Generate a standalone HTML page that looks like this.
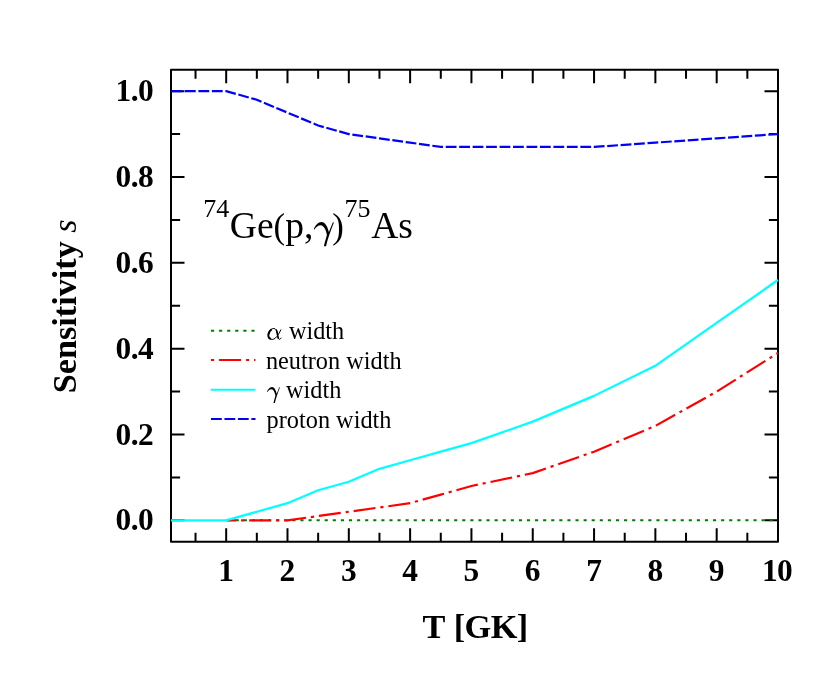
<!DOCTYPE html>
<html><head><meta charset="utf-8"><title>Sensitivity 74Ge(p,g)75As</title>
<style>
html,body{margin:0;padding:0;background:#fff;}
body{width:831px;height:679px;overflow:hidden;font-family:"Liberation Serif",serif;}
svg{display:block;will-change:transform;}
text{font-family:"Liberation Serif",serif;fill:#000;}
.b{font-weight:bold;}
.i{font-style:italic;}
</style></head><body>
<svg width="831" height="679" viewBox="0 0 831 679">
<rect x="0" y="0" width="831" height="679" fill="#ffffff"/>
<path d="M226.18,541.80 v-13.50 M226.18,69.70 v13.50 M287.49,541.80 v-13.50 M287.49,69.70 v13.50 M348.81,541.80 v-13.50 M348.81,69.70 v13.50 M410.12,541.80 v-13.50 M410.12,69.70 v13.50 M471.43,541.80 v-13.50 M471.43,69.70 v13.50 M532.75,541.80 v-13.50 M532.75,69.70 v13.50 M594.06,541.80 v-13.50 M594.06,69.70 v13.50 M655.37,541.80 v-13.50 M655.37,69.70 v13.50 M716.69,541.80 v-13.50 M716.69,69.70 v13.50 M778.00,541.80 v-13.50 M778.00,69.70 v13.50 M195.53,541.80 v-9.10 M195.53,69.70 v9.10 M256.84,541.80 v-9.10 M256.84,69.70 v9.10 M318.15,541.80 v-9.10 M318.15,69.70 v9.10 M379.46,541.80 v-9.10 M379.46,69.70 v9.10 M440.78,541.80 v-9.10 M440.78,69.70 v9.10 M502.09,541.80 v-9.10 M502.09,69.70 v9.10 M563.40,541.80 v-9.10 M563.40,69.70 v9.10 M624.72,541.80 v-9.10 M624.72,69.70 v9.10 M686.03,541.80 v-9.10 M686.03,69.70 v9.10 M747.34,541.80 v-9.10 M747.34,69.70 v9.10 M171.00,520.34 h13.50 M778.00,520.34 h-13.50 M171.00,434.50 h13.50 M778.00,434.50 h-13.50 M171.00,348.67 h13.50 M778.00,348.67 h-13.50 M171.00,262.83 h13.50 M778.00,262.83 h-13.50 M171.00,177.00 h13.50 M778.00,177.00 h-13.50 M171.00,91.16 h13.50 M778.00,91.16 h-13.50 M171.00,477.42 h9.10 M778.00,477.42 h-9.10 M171.00,391.59 h9.10 M778.00,391.59 h-9.10 M171.00,305.75 h9.10 M778.00,305.75 h-9.10 M171.00,219.91 h9.10 M778.00,219.91 h-9.10 M171.00,134.08 h9.10 M778.00,134.08 h-9.10" stroke="#000" stroke-width="2.00" fill="none"/>
<rect x="171.00" y="69.70" width="607.00" height="472.10" fill="none" stroke="#000" stroke-width="2.00" stroke-linejoin="round"/>
<g fill="none" stroke-width="2.2" stroke-linejoin="round">
<path d="M226.18,520.34 L256.84,520.34 L287.49,520.34 L318.15,520.34 L348.81,520.34 L379.46,520.34 L410.12,520.34 L440.78,520.34 L471.43,520.34 L532.75,520.34 L594.06,520.34 L655.37,520.34 L716.69,520.34 L778.00,520.34" stroke="#007e00" stroke-width="2.0" stroke-dasharray="3.1 4.99" stroke-dashoffset="55.18"/>
<path d="M226.18,520.34 L256.84,520.34 L287.49,520.34 L318.15,516.05 L348.81,511.76 L379.46,507.47 L410.12,503.17 L440.78,494.59 L471.43,486.01 L532.75,473.13 L594.06,451.67 L655.37,425.92 L716.69,391.59 L778.00,352.96" stroke="#ff0000" stroke-dasharray="3.1 4.95 22.05 4.95" stroke-dashoffset="55.18"/>
<path d="M171.00,520.34 L174.07,520.34 L177.13,520.34 L183.26,520.34 L189.39,520.34 L195.53,520.34 L201.66,520.34 L207.79,520.34 L213.92,520.34 L220.05,520.34 L226.18,520.34 L256.84,511.76 L287.49,503.17 L318.15,490.30 L348.81,481.71 L379.46,468.84 L410.12,460.26 L440.78,451.67 L471.43,443.09 L532.75,421.63 L594.06,395.88 L655.37,365.84 L716.69,322.92 L778.00,280.00" stroke="#00ffff"/>
<path d="M171.00,91.16 L174.07,91.16 L177.13,91.16 L183.26,91.16 L189.39,91.16 L195.53,91.16 L201.66,91.16 L207.79,91.16 L213.92,91.16 L220.05,91.16 L226.18,91.16 L256.84,99.74 L287.49,112.62 L318.15,125.49 L348.81,134.08 L379.46,138.37 L410.12,142.66 L440.78,146.95 L471.43,146.95 L532.75,146.95 L594.06,146.95 L655.37,142.66 L716.69,138.37 L778.00,134.08" stroke="#0000ff" stroke-dasharray="10.8 2.66" stroke-dashoffset="-0.5"/>
</g>
<text class="b" x="153.2" y="530.34" font-size="31.4" letter-spacing="-0.5" text-anchor="end">0.0</text>
<text class="b" x="153.2" y="444.50" font-size="31.4" letter-spacing="-0.5" text-anchor="end">0.2</text>
<text class="b" x="153.2" y="358.67" font-size="31.4" letter-spacing="-0.5" text-anchor="end">0.4</text>
<text class="b" x="153.2" y="272.83" font-size="31.4" letter-spacing="-0.5" text-anchor="end">0.6</text>
<text class="b" x="153.2" y="187.00" font-size="31.4" letter-spacing="-0.5" text-anchor="end">0.8</text>
<text class="b" x="153.2" y="101.16" font-size="31.4" letter-spacing="-0.5" text-anchor="end">1.0</text>
<text class="b" x="225.88" y="580.9" font-size="31.4" letter-spacing="-0.5" text-anchor="middle">1</text>
<text class="b" x="287.19" y="580.9" font-size="31.4" letter-spacing="-0.5" text-anchor="middle">2</text>
<text class="b" x="348.51" y="580.9" font-size="31.4" letter-spacing="-0.5" text-anchor="middle">3</text>
<text class="b" x="409.82" y="580.9" font-size="31.4" letter-spacing="-0.5" text-anchor="middle">4</text>
<text class="b" x="471.13" y="580.9" font-size="31.4" letter-spacing="-0.5" text-anchor="middle">5</text>
<text class="b" x="532.45" y="580.9" font-size="31.4" letter-spacing="-0.5" text-anchor="middle">6</text>
<text class="b" x="593.76" y="580.9" font-size="31.4" letter-spacing="-0.5" text-anchor="middle">7</text>
<text class="b" x="655.07" y="580.9" font-size="31.4" letter-spacing="-0.5" text-anchor="middle">8</text>
<text class="b" x="716.39" y="580.9" font-size="31.4" letter-spacing="-0.5" text-anchor="middle">9</text>
<text class="b" x="777.10" y="580.9" font-size="31.4" letter-spacing="-0.5" text-anchor="middle">10</text>
<text class="b" x="422.5" y="637.9" font-size="34.3">T</text>
<text class="b" x="453.7" y="637.9" font-size="34.3" letter-spacing="-0.55">[GK]</text>
<text class="b" transform="translate(75.7,306.3) rotate(-90)" font-size="34.2" text-anchor="middle">Sensitivity <tspan class="i" font-weight="normal">s</tspan></text>
<text x="203.3" y="217.40" font-size="26">74</text>
<text x="229.8" y="238.40" font-size="37.5">Ge</text>
<text x="273.6" y="237.50" font-size="34.8">(</text>
<text x="285.3" y="238.40" font-size="37.5">p,</text>
<path d="M313.7,229.3 C315.2,225.2 318.2,221.9 321.5,221.9 C325.2,221.9 327.4,226.3 328.9,231.9 L332.9,222.2 L333.9,222.6 C331.0,230.0 327.8,238.5 326.0,246.2 L323.9,246.2 C324.9,242.0 326.0,238.0 326.9,235.0 C326.2,230.5 324.0,225.2 320.6,225.2 C318.2,225.2 316.0,227.0 314.5,229.6 Z" fill="#000"/>
<text x="332.2" y="237.50" font-size="34.8">)</text>
<text x="344.5" y="217.40" font-size="26">75</text>
<text x="371.2" y="238.40" font-size="37.5">As</text>
<path d="M211.00,330.80 H255.50" stroke="#007e00" stroke-width="2.0" fill="none" stroke-dasharray="3.1 4.99"/>
<path d="M211.00,360.10 H255.50" stroke="#ff0000" stroke-width="2.0" fill="none" stroke-dasharray="3.1 4.95 22.05 4.95"/>
<path d="M211.00,389.70 H255.50" stroke="#00ffff" stroke-width="2.0" fill="none"/>
<path d="M211.00,418.90 H255.50" stroke="#0000ff" stroke-width="2.0" fill="none" stroke-dasharray="10.8 2.66"/>
<g fill="none" stroke="#000" stroke-linejoin="round"><path d="M280.84,329.86 L278.19,334.72 C276.54,337.30 274.33,339.51 272.12,339.43 C269.91,339.32 268.26,337.67 268.33,335.09 C268.44,331.78 271.20,328.39 273.85,328.47 C275.80,328.54 276.91,330.67 277.27,333.25 C277.64,335.83 278.01,338.03 278.86,339.07 C279.48,339.69 280.40,339.32 281.03,338.03" stroke-width="1.0" stroke-linecap="round"/><path d="M271.64,329.20 C269.73,330.67 268.44,332.88 268.33,335.09 C268.26,336.93 269.18,338.59 270.83,339.14" stroke-width="1.9"/><path d="M276.17,329.64 C276.91,330.67 277.16,332.51 277.38,333.99 C277.64,335.83 277.90,337.67 278.56,338.70" stroke-width="1.6"/></g>
<text x="288.9" y="338.90" font-size="24.3">width</text>
<text x="265.9" y="368.50" font-size="24.3">neutron width</text>
<path d="M313.7,229.3 C315.2,225.2 318.2,221.9 321.5,221.9 C325.2,221.9 327.4,226.3 328.9,231.9 L332.9,222.2 L333.9,222.6 C331.0,230.0 327.8,238.5 326.0,246.2 L323.9,246.2 C324.9,242.0 326.0,238.0 326.9,235.0 C326.2,230.5 324.0,225.2 320.6,225.2 C318.2,225.2 316.0,227.0 314.5,229.6 Z" fill="#000" transform="translate(266.9,387.0) scale(0.645,0.663) translate(-313.7,-221.9)"/>
<text x="286.0" y="397.80" font-size="24.3">width</text>
<text x="266.6" y="428.20" font-size="24.3">proton width</text>
</svg>
</body></html>
